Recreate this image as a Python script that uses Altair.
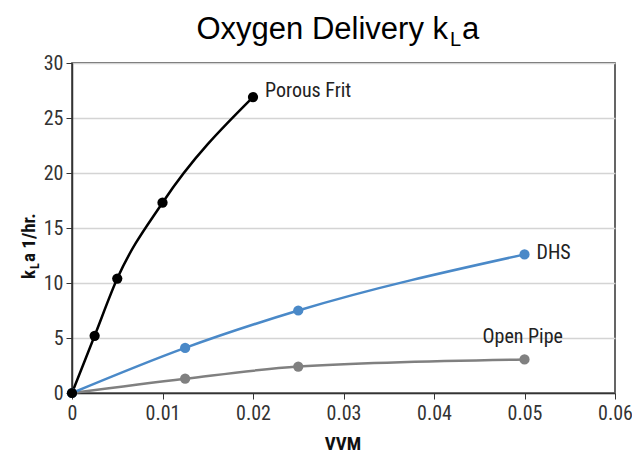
import altair as alt
import pandas as pd

# ---- data ----
series_names = ["Porous Frit", "DHS", "Open Pipe"]
frit_vvm = [0, 0.0025, 0.005, 0.01, 0.02]
frit_kla = [0, 5.2, 10.4, 17.3, 26.9]
dhs_vvm = [0, 0.0125, 0.025, 0.05]
dhs_kla = [0, 4.1, 7.5, 12.6]
pipe_vvm = [0, 0.0125, 0.025, 0.05]
pipe_kla = [0, 1.3, 2.4, 3.05]
series_colors = ["#000000", "#4a89c8", "#808080"]
x_ticks = [0, 0.01, 0.02, 0.03, 0.04, 0.05, 0.06]
y_ticks = [0, 5, 10, 15, 20, 25, 30]

rows = []
for name, xs, ys in [("Open Pipe", pipe_vvm, pipe_kla), ("DHS", dhs_vvm, dhs_kla), ("Porous Frit", frit_vvm, frit_kla)]:
    for i, (a, b) in enumerate(zip(xs, ys)):
        rows.append({"series": name, "vvm": a, "kla": b, "last": i == len(xs) - 1})
df = pd.DataFrame(rows)

W, H = 543, 330
NARROW = "Roboto Condensed, Roboto, sans-serif"
AXC = "#333333"

color = alt.Color("series:N", scale=alt.Scale(domain=series_names, range=series_colors), legend=None)
xenc = alt.X("vvm:Q", scale=alt.Scale(domain=[0, 0.06], nice=False, clamp=False),
             axis=alt.Axis(values=x_ticks, title=None, grid=False,
                           labelExpr="datum.value == 0 ? '0' : format(datum.value, '.2f')",
                           labelFont=NARROW, labelFontSize=20, labelColor=AXC,
                           domainColor=AXC, tickColor=AXC, tickSize=6, labelPadding=4,
                           domainWidth=1.5, labelFlush=False))
yenc = alt.Y("kla:Q", scale=alt.Scale(domain=[0, 30], nice=False),
             axis=alt.Axis(values=y_ticks, title=None, grid=True, gridColor="#d4d4d4", gridWidth=1.5,
                           labelFont=NARROW, labelFontSize=20, labelColor=AXC,
                           domainColor=AXC, tickColor=AXC, tickSize=6, labelPadding=3,
                           domainWidth=1.5, labelFlush=False))

base = alt.Chart(df)
lines = base.mark_line(interpolate="monotone", strokeWidth=2.5).encode(
    x=xenc, y=yenc, color=color, detail="series:N", order=alt.Order("vvm:Q"))
points = base.mark_circle(size=105, opacity=1).encode(x="vvm:Q", y="kla:Q", color=color)

lab_style = dict(font=NARROW, fontSize=20, color="#222222", align="left", baseline="middle")
lab_frit = base.transform_filter("datum.last && datum.series == 'Porous Frit'").mark_text(dx=12, dy=-6, **lab_style).encode(
    x="vvm:Q", y="kla:Q", text="series:N")
lab_dhs = base.transform_filter("datum.last && datum.series == 'DHS'").mark_text(dx=12, dy=-1, **lab_style).encode(
    x="vvm:Q", y="kla:Q", text="series:N")
lab_pipe = base.transform_filter("datum.last && datum.series == 'Open Pipe'").mark_text(dx=-42, dy=-22, **lab_style).encode(
    x="vvm:Q", y="kla:Q", text="series:N")

# title "Oxygen Delivery kLa" with subscript L
TF = "Liberation Sans"
t1 = alt.Chart(pd.DataFrame({"t": ["Oxygen Delivery k"]})).mark_text(
    font=TF, fontSize=31, align="right", baseline="alphabetic", color="#000000").encode(
    x=alt.value(376), y=alt.value(-24), text="t:N")
t2 = alt.Chart(pd.DataFrame({"t": ["L"]})).mark_text(
    font=TF, fontSize=20, align="left", baseline="alphabetic", color="#000000").encode(
    x=alt.value(378), y=alt.value(-17), text="t:N")
t3 = alt.Chart(pd.DataFrame({"t": ["a"]})).mark_text(
    font=TF, fontSize=31, align="left", baseline="alphabetic", color="#000000").encode(
    x=alt.value(390), y=alt.value(-24), text="t:N")

# y title "kLa 1/hr." rotated, with subscript L
yt_style = dict(font=NARROW, fontWeight="bold", angle=270, align="left", baseline="alphabetic", color="#111111")
y1 = alt.Chart(pd.DataFrame({"t": ["k"]})).mark_text(fontSize=19, **yt_style).encode(
    x=alt.value(-37), y=alt.value(216), text="t:N")
y2 = alt.Chart(pd.DataFrame({"t": ["L"]})).mark_text(fontSize=12, **yt_style).encode(
    x=alt.value(-33), y=alt.value(206), text="t:N")
y3 = alt.Chart(pd.DataFrame({"t": ["a 1/hr."]})).mark_text(fontSize=19, **yt_style).encode(
    x=alt.value(-37), y=alt.value(199), text="t:N")

# x title
xt = alt.Chart(pd.DataFrame({"t": ["VVM"]})).mark_text(
    font=NARROW, fontWeight="bold", fontSize=19, align="center", baseline="alphabetic", color="#111111").encode(
    x=alt.value(271), y=alt.value(387), text="t:N")

chart = alt.layer(lines, points, lab_frit, lab_dhs, lab_pipe, t1, t2, t3, y1, y2, y3, xt).properties(
    width=W, height=H,
    autosize=alt.AutoSizeParams(type="none"),
    padding={"left": 64, "top": 55, "right": 17, "bottom": 62},
    background="white",
).configure_view(stroke=AXC, strokeWidth=1.5)

chart.save("out.html", embed_options={"renderer": "svg", "actions": False})
